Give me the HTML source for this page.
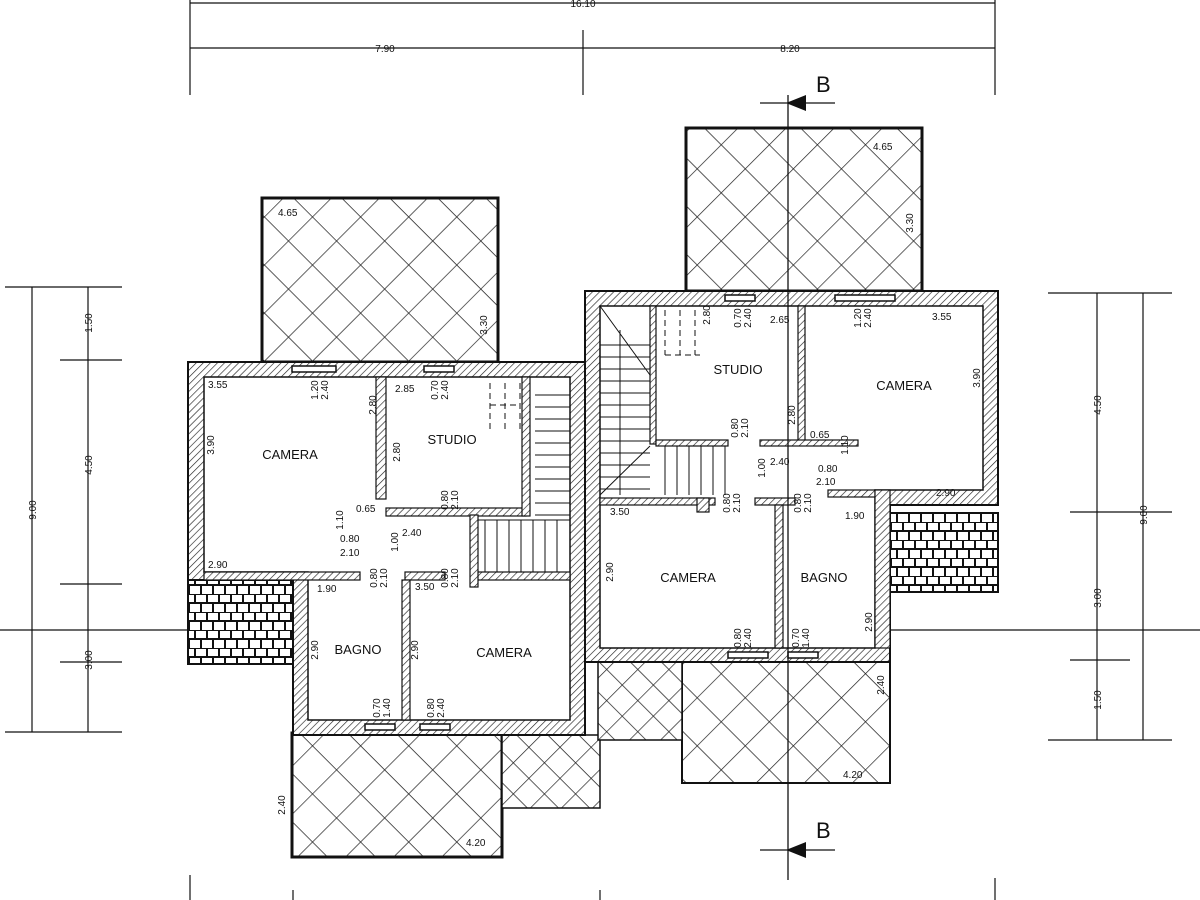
<!DOCTYPE html>
<html><head><meta charset="utf-8"><style>
html,body{margin:0;padding:0;background:#fff}
svg{display:block}
text{font-family:"Liberation Sans",sans-serif;fill:#111}
.r{font-size:13px}
.d{font-size:10px}
</style></head><body>
<svg width="1200" height="900" viewBox="0 0 1200 900" xmlns="http://www.w3.org/2000/svg">
<defs>
<pattern id="h" width="5" height="5" patternUnits="userSpaceOnUse" patternTransform="rotate(45)">
<rect width="5" height="5" fill="#fff"/><line x1="0" y1="0" x2="0" y2="5" stroke="#222" stroke-width="1.3"/></pattern>
<pattern id="dm" width="34" height="34" patternUnits="userSpaceOnUse" patternTransform="rotate(45)">
<rect width="34" height="34" fill="#fff"/><path d="M0 0H34M0 0V34" stroke="#222" stroke-width="1.4"/></pattern>
<pattern id="dm2" width="22" height="22" patternUnits="userSpaceOnUse" patternTransform="rotate(45)">
<rect width="22" height="22" fill="#fff"/><path d="M0 0H22M0 0V22" stroke="#222" stroke-width="1.4"/></pattern>
<pattern id="br" width="12" height="18" patternUnits="userSpaceOnUse">
<rect width="12" height="18" fill="#fff"/><path d="M0 0H12M0 9H12M3 0V9M9 9V18" stroke="#111" stroke-width="2"/></pattern>
</defs>
<g stroke="#111" stroke-width="1.2" fill="none">
<!-- top dimensions -->
<line x1="190" y1="3" x2="995" y2="3"/><line x1="190" y1="48" x2="995" y2="48"/>
<line x1="190" y1="0" x2="190" y2="95"/><line x1="995" y1="0" x2="995" y2="95"/><line x1="583" y1="30" x2="583" y2="95"/>
<!-- left dims -->
<line x1="32" y1="287" x2="32" y2="732"/><line x1="88" y1="287" x2="88" y2="732"/>
<line x1="5" y1="287" x2="122" y2="287"/><line x1="60" y1="360" x2="122" y2="360"/><line x1="60" y1="584" x2="122" y2="584"/><line x1="60" y1="662" x2="122" y2="662"/><line x1="5" y1="732" x2="122" y2="732"/>
<!-- right dims -->
<line x1="1097" y1="293" x2="1097" y2="740"/><line x1="1143" y1="293" x2="1143" y2="740"/>
<line x1="1048" y1="293" x2="1172" y2="293"/><line x1="1070" y1="512" x2="1172" y2="512"/><line x1="1070" y1="660" x2="1130" y2="660"/><line x1="1048" y1="740" x2="1172" y2="740"/>
<!-- section line -->
<line x1="0" y1="630" x2="1200" y2="630"/>
<!-- bottom ticks -->
<line x1="190" y1="875" x2="190" y2="900"/><line x1="293" y1="890" x2="293" y2="900"/><line x1="600" y1="890" x2="600" y2="900"/><line x1="995" y1="878" x2="995" y2="900"/>
</g>
<!-- terraces -->
<rect x="262" y="198" width="236" height="164" fill="url(#dm)" stroke="#111" stroke-width="3"/>
<rect x="686" y="128" width="236" height="163" fill="url(#dm)" stroke="#111" stroke-width="3"/>
<rect x="292" y="733" width="210" height="124" fill="url(#dm)" stroke="#111" stroke-width="3"/>
<rect x="682" y="662" width="208" height="121" fill="url(#dm)" stroke="#111" stroke-width="2"/>
<rect x="502" y="735" width="98" height="73" fill="url(#dm2)" stroke="#111" stroke-width="1.5"/>
<rect x="598" y="662" width="84" height="78" fill="url(#dm2)" stroke="#111" stroke-width="1.5"/>
<rect x="188" y="580" width="105" height="84" fill="url(#br)" stroke="#111" stroke-width="2"/>
<rect x="890" y="513" width="108" height="79" fill="url(#br)" stroke="#111" stroke-width="2"/>
<!-- left building -->
<path d="M188 362H585V735H293V580H188Z" fill="url(#h)" stroke="#111" stroke-width="2"/>
<path d="M204 377H570V720H308V572H204Z" fill="#fff" stroke="#111" stroke-width="1.5"/>
<g fill="url(#h)" stroke="#111" stroke-width="1.2">
<rect x="376" y="377" width="10" height="122"/>
<rect x="386" y="508" width="140" height="8"/>
<rect x="522" y="377" width="8" height="139"/>
<rect x="204" y="572" width="156" height="8"/>
<rect x="405" y="572" width="40" height="8"/>
<rect x="474" y="572" width="96" height="8"/>
<rect x="402" y="580" width="8" height="140"/>
<rect x="470" y="515" width="8" height="72"/>
</g>
<g stroke="#111" stroke-width="1">
<path d="M535 395H570M535 407H570M535 419H570M535 431H570M535 443H570M535 455H570M535 467H570M535 479H570M535 491H570M535 503H570M535 515H570M485 520V572M497 520V572M509 520V572M521 520V572M533 520V572M545 520V572M557 520V572M478 520H570"/>
<path d="M490 383V430M505 383V430M520 383V430M490 405H520" stroke-dasharray="6 4"/>
</g>
<!-- right building -->
<path d="M585 291H998V505H890V662H585Z" fill="url(#h)" stroke="#111" stroke-width="2"/>
<path d="M600 306H983V490H875V648H600Z" fill="#fff" stroke="#111" stroke-width="1.5"/>
<g fill="url(#h)" stroke="#111" stroke-width="1.2">
<rect x="650" y="306" width="6" height="138"/>
<rect x="798" y="306" width="7" height="136"/>
<rect x="656" y="440" width="72" height="6"/>
<rect x="760" y="440" width="98" height="6"/>
<rect x="600" y="498" width="115" height="7"/>
<rect x="755" y="498" width="40" height="7"/>
<rect x="828" y="490" width="47" height="7"/>
<rect x="775" y="505" width="8" height="143"/>
<rect x="697" y="498" width="12" height="14"/>
<rect x="875" y="490" width="15" height="158"/>
</g>
<g stroke="#111" stroke-width="1">
<path d="M620 330V495M600 345H650M600 357H650M600 369H650M600 381H650M600 393H650M600 405H650M600 417H650M600 429H650M600 441H650M600 453H650M600 465H650M600 477H650M600 489H650M665 446V495M677 446V495M689 446V495M701 446V495M713 446V495M725 446V495M600 306L650 375M600 495L650 446"/>
<path d="M665 310V355M680 310V355M695 310V355M665 355H700" stroke-dasharray="6 4"/>
</g>
<!-- windows -->
<g fill="#fff" stroke="#111" stroke-width="1.5">
<rect x="292" y="366" width="44" height="6"/><rect x="424" y="366" width="30" height="6"/>
<rect x="725" y="295" width="30" height="6"/><rect x="835" y="295" width="60" height="6"/>
<rect x="365" y="724" width="30" height="6"/><rect x="420" y="724" width="30" height="6"/>
<rect x="728" y="652" width="40" height="6"/><rect x="788" y="652" width="30" height="6"/>
</g>
<!-- section B -->
<g stroke="#111" stroke-width="1.3"><line x1="788" y1="95" x2="788" y2="880"/><line x1="760" y1="103" x2="835" y2="103"/><line x1="760" y1="850" x2="835" y2="850"/></g>
<path d="M786 103L806 95V111Z" fill="#111"/><path d="M786 850L806 842V858Z" fill="#111"/>
<text x="816" y="92" style="font-size:22px">B</text><text x="816" y="838" style="font-size:22px">B</text>
<!-- top labels -->
<g class="d" text-anchor="middle">
<text x="583" y="7" fill="#111">16.10</text><text x="385" y="52">7.90</text><text x="790" y="52">8.20</text>
</g>
<!-- room labels -->
<g class="r" text-anchor="middle">
<text x="290" y="459">CAMERA</text><text x="452" y="444">STUDIO</text><text x="358" y="654">BAGNO</text><text x="504" y="657">CAMERA</text>
<text x="738" y="374">STUDIO</text><text x="904" y="390">CAMERA</text><text x="688" y="582">CAMERA</text><text x="824" y="582">BAGNO</text>
</g>
<g class="d">
<text x="208" y="388">3.55</text><text x="395" y="392">2.85</text><text x="208" y="568">2.90</text><text x="356" y="512">0.65</text><text x="402" y="536">2.40</text>
<text x="317" y="592">1.90</text><text x="415" y="590">3.50</text><text x="466" y="846">4.20</text><text x="278" y="216">4.65</text>
<text x="610" y="515">3.50</text><text x="770" y="323">2.65</text><text x="932" y="320">3.55</text><text x="810" y="438">0.65</text><text x="770" y="465">2.40</text>
<text x="936" y="496">2.90</text><text x="845" y="519">1.90</text><text x="843" y="778">4.20</text><text x="873" y="150">4.65</text>
<text x="340" y="542">0.80</text><text x="340" y="556">2.10</text><text x="818" y="472">0.80</text><text x="816" y="485">2.10</text>
</g>
<g class="d" text-anchor="middle">
<text transform="translate(36,510) rotate(-90)">9.00</text><text transform="translate(92,323) rotate(-90)">1.50</text><text transform="translate(92,465) rotate(-90)">4.50</text><text transform="translate(92,660) rotate(-90)">3.00</text>
<text transform="translate(1101,405) rotate(-90)">4.50</text><text transform="translate(1101,598) rotate(-90)">3.00</text><text transform="translate(1101,700) rotate(-90)">1.50</text><text transform="translate(1147,515) rotate(-90)">9.00</text>
<text transform="translate(214,445) rotate(-90)">3.90</text><text transform="translate(376,405) rotate(-90)">2.80</text><text transform="translate(400,452) rotate(-90)">2.80</text><text transform="translate(343,520) rotate(-90)">1.10</text>
<text transform="translate(398,542) rotate(-90)">1.00</text><text transform="translate(318,650) rotate(-90)">2.90</text><text transform="translate(418,650) rotate(-90)">2.90</text>
<text transform="translate(487,325) rotate(-90)">3.30</text><text transform="translate(285,805) rotate(-90)">2.40</text>
<text transform="translate(613,572) rotate(-90)">2.90</text><text transform="translate(710,315) rotate(-90)">2.80</text><text transform="translate(795,415) rotate(-90)">2.80</text><text transform="translate(980,378) rotate(-90)">3.90</text>
<text transform="translate(848,445) rotate(-90)">1.10</text><text transform="translate(765,468) rotate(-90)">1.00</text><text transform="translate(872,622) rotate(-90)">2.90</text><text transform="translate(913,223) rotate(-90)">3.30</text><text transform="translate(884,685) rotate(-90)">2.40</text>
<text transform="translate(318,390) rotate(-90)">1.20</text><text transform="translate(328,390) rotate(-90)">2.40</text><text transform="translate(438,390) rotate(-90)">0.70</text><text transform="translate(448,390) rotate(-90)">2.40</text>
<text transform="translate(741,318) rotate(-90)">0.70</text><text transform="translate(751,318) rotate(-90)">2.40</text><text transform="translate(861,318) rotate(-90)">1.20</text><text transform="translate(871,318) rotate(-90)">2.40</text>
<text transform="translate(380,708) rotate(-90)">0.70</text><text transform="translate(390,708) rotate(-90)">1.40</text><text transform="translate(434,708) rotate(-90)">0.80</text><text transform="translate(444,708) rotate(-90)">2.40</text>
<text transform="translate(741,638) rotate(-90)">0.80</text><text transform="translate(751,638) rotate(-90)">2.40</text><text transform="translate(799,638) rotate(-90)">0.70</text><text transform="translate(809,638) rotate(-90)">1.40</text>
<text transform="translate(448,500) rotate(-90)">0.80</text><text transform="translate(458,500) rotate(-90)">2.10</text><text transform="translate(377,578) rotate(-90)">0.80</text><text transform="translate(387,578) rotate(-90)">2.10</text>
<text transform="translate(448,578) rotate(-90)">0.80</text><text transform="translate(458,578) rotate(-90)">2.10</text><text transform="translate(738,428) rotate(-90)">0.80</text><text transform="translate(748,428) rotate(-90)">2.10</text>
<text transform="translate(730,503) rotate(-90)">0.80</text><text transform="translate(740,503) rotate(-90)">2.10</text><text transform="translate(801,503) rotate(-90)">0.80</text><text transform="translate(811,503) rotate(-90)">2.10</text>
</g>
</svg>
</body></html>
